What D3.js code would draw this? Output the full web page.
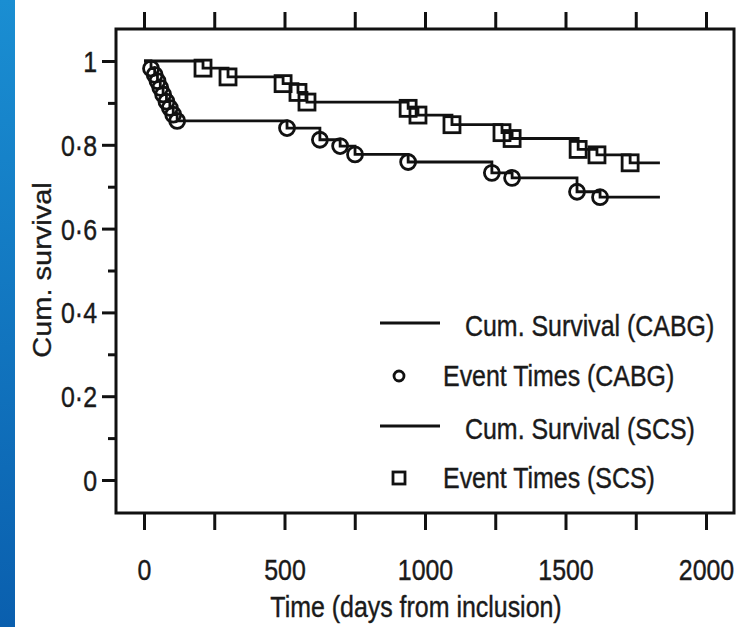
<!DOCTYPE html>
<html>
<head>
<meta charset="utf-8">
<script src="https://cdn.jsdelivr.net/npm/d3@7"></script>
<style>
  body { margin: 0; background: #fff; }
  svg { display: block; font-family: "Liberation Sans", Arial, sans-serif; }
  text { stroke: #1a1a1a; stroke-width: 0.4px; }
</style>
</head>
<body>
<div id="chart"></div>
<script>
// Kaplan-Meier data (days, cumulative survival after event)
const cabgTimes = [25, 38, 48, 58, 68, 80, 92, 104, 118, 509, 626, 698, 751, 940, 1238, 1310, 1541, 1623];
const cabgSurv  = [0.982, 0.967, 0.952, 0.936, 0.92, 0.903, 0.888, 0.872, 0.857, 0.84, 0.812, 0.797, 0.777, 0.759, 0.733, 0.721, 0.688, 0.675];
const cabgEnd = 1836;

const scsTimes = [210, 299, 495, 548, 580, 940, 975, 1096, 1274, 1310, 1545, 1612, 1730];
const scsSurv  = [0.983, 0.962, 0.946, 0.925, 0.902, 0.887, 0.871, 0.848, 0.829, 0.815, 0.789, 0.776, 0.757];
const scsEnd = 1836;

const xTicks = [0, 250, 500, 750, 1000, 1250, 1500, 1750, 2000];
const xLabels = [0, 500, 1000, 1500, 2000];
const yTicks = [0, 0.1, 0.2, 0.3, 0.4, 0.5, 0.6, 0.7, 0.8, 0.9, 1];
const yLabels = [0, 0.2, 0.4, 0.6, 0.8, 1];

const legendItems = [
  { label: "Cum. Survival (CABG)", type: "line" },
  { label: "Event Times (CABG)", type: "circle" },
  { label: "Cum. Survival (SCS)", type: "line" },
  { label: "Event Times (SCS)", type: "square" }
];

const W = 736, H = 627;
const squash = 0.86; // text in the source looks horizontally compressed
const ink = "#111";
const fs = "29px";

const svg = d3.select("#chart").append("svg").attr("width", W).attr("height", H);

// blue slide edge on the left
const grad = svg.append("defs").append("linearGradient")
  .attr("id", "edge").attr("x1", 0).attr("y1", 0).attr("x2", 0).attr("y2", 1);
grad.append("stop").attr("offset", "0%").attr("stop-color", "#1a8ed2");
grad.append("stop").attr("offset", "100%").attr("stop-color", "#0a5fae");
svg.append("rect").attr("x", 0).attr("y", 0).attr("width", 15).attr("height", H).attr("fill", "url(#edge)");

const x = d3.scaleLinear().domain([0, 2000]).range([144, 706]);
const y = d3.scaleLinear().domain([0, 1]).range([480, 61]);

const box = { left: 116, right: 734, top: 29, bottom: 513 };

// axes
const bottomAxis = svg.append("g")
  .attr("transform", `translate(0,${box.bottom})`)
  .call(d3.axisBottom(x).tickValues(xTicks).tickSize(17).tickPadding(0)
    .tickFormat(d => xLabels.includes(d) ? d : ""));
bottomAxis.selectAll("text")
  .attr("y", 67).attr("dy", 0)
  .attr("transform", `scale(${squash},1)`)
  .style("font-size", fs).attr("fill", "#1a1a1a");

const topAxis = svg.append("g")
  .attr("transform", `translate(0,${box.top})`)
  .call(d3.axisTop(x).tickValues(xTicks).tickSize(17).tickFormat(""));

const leftAxis = svg.append("g")
  .attr("transform", `translate(${box.left},0)`)
  .call(d3.axisLeft(y).tickValues(yTicks)
    .tickFormat(d => yLabels.some(v => Math.abs(v - d) < 1e-9) ? d3.format("~g")(d).replace(".", "·") : ""));
leftAxis.selectAll(".tick line")
  .attr("x2", d => yLabels.some(v => Math.abs(v - d) < 1e-9) ? -14 : -8);
leftAxis.selectAll("text")
  .attr("x", -19 / squash).attr("dy", "0.36em")
  .attr("transform", `scale(${squash},1)`)
  .style("font-size", fs).attr("fill", "#1a1a1a");

[bottomAxis, topAxis, leftAxis].forEach(g => {
  g.select(".domain").remove();
  g.selectAll(".tick line").attr("stroke", ink).attr("stroke-width", 3);
});

// frame
svg.append("rect")
  .attr("x", box.left).attr("y", box.top)
  .attr("width", box.right - box.left).attr("height", box.bottom - box.top)
  .attr("fill", "none").attr("stroke", ink).attr("stroke-width", 3);

// axis titles
svg.append("text")
  .attr("transform", `translate(416,617) scale(${squash},1)`)
  .attr("text-anchor", "middle").style("font-size", fs).attr("fill", "#1a1a1a")
  .text("Time (days from inclusion)");

svg.append("text")
  .attr("transform", `translate(51,270) scale(${squash},1) rotate(-90)`)
  .attr("text-anchor", "middle").style("font-size", fs).attr("fill", "#1a1a1a")
  .text("Cum. survival");

// survival curves
function steps(times, surv, end) {
  const pts = [{ t: 0, s: 1 }];
  times.forEach((t, i) => pts.push({ t, s: surv[i] }));
  pts.push({ t: end, s: surv[surv.length - 1] });
  return pts;
}
const line = d3.line().x(d => x(d.t)).y(d => y(d.s)).curve(d3.curveStepAfter);

const plot = svg.append("g");
plot.append("path").datum(steps(scsTimes, scsSurv, scsEnd))
  .attr("d", line).attr("fill", "none").attr("stroke", ink).attr("stroke-width", 2.8);
plot.append("path").datum(steps(cabgTimes, cabgSurv, cabgEnd))
  .attr("d", line).attr("fill", "none").attr("stroke", ink).attr("stroke-width", 2.8);

plot.selectAll("circle.ev").data(cabgTimes.map((t, i) => ({ t, s: cabgSurv[i] })))
  .join("circle").attr("class", "ev")
  .attr("cx", d => x(d.t)).attr("cy", d => y(d.s)).attr("r", 7.5)
  .attr("fill", "none").attr("stroke", ink).attr("stroke-width", 2.8);

const sq = 16;
plot.selectAll("rect.ev").data(scsTimes.map((t, i) => ({ t, s: scsSurv[i] })))
  .join("rect").attr("class", "ev")
  .attr("x", d => x(d.t) - sq / 2).attr("y", d => y(d.s) - sq / 2)
  .attr("width", sq).attr("height", sq)
  .attr("fill", "none").attr("stroke", ink).attr("stroke-width", 2.8);

// legend
const rowY = [323, 376, 426, 478];
const legend = svg.append("g");
legendItems.forEach((item, i) => {
  const g = legend.append("g").attr("transform", `translate(0,${rowY[i]})`);
  let tx;
  if (item.type === "line") {
    g.append("line").attr("x1", 380).attr("x2", 440).attr("y1", 0).attr("y2", 0)
      .attr("stroke", ink).attr("stroke-width", 2.8);
    tx = 465;
  } else if (item.type === "circle") {
    g.append("circle").attr("cx", 399).attr("cy", 0).attr("r", 5)
      .attr("fill", "none").attr("stroke", ink).attr("stroke-width", 2.8);
    tx = 443;
  } else {
    g.append("rect").attr("x", 393).attr("y", -6).attr("width", 12).attr("height", 12)
      .attr("fill", "none").attr("stroke", ink).attr("stroke-width", 2.8);
    tx = 443;
  }
  g.append("text")
    .attr("transform", `translate(${tx},${item.type === "line" ? 13 : 10}) scale(${squash},1)`)
    .style("font-size", fs).attr("fill", "#1a1a1a")
    .text(item.label);
});
</script>
</body>
</html>
